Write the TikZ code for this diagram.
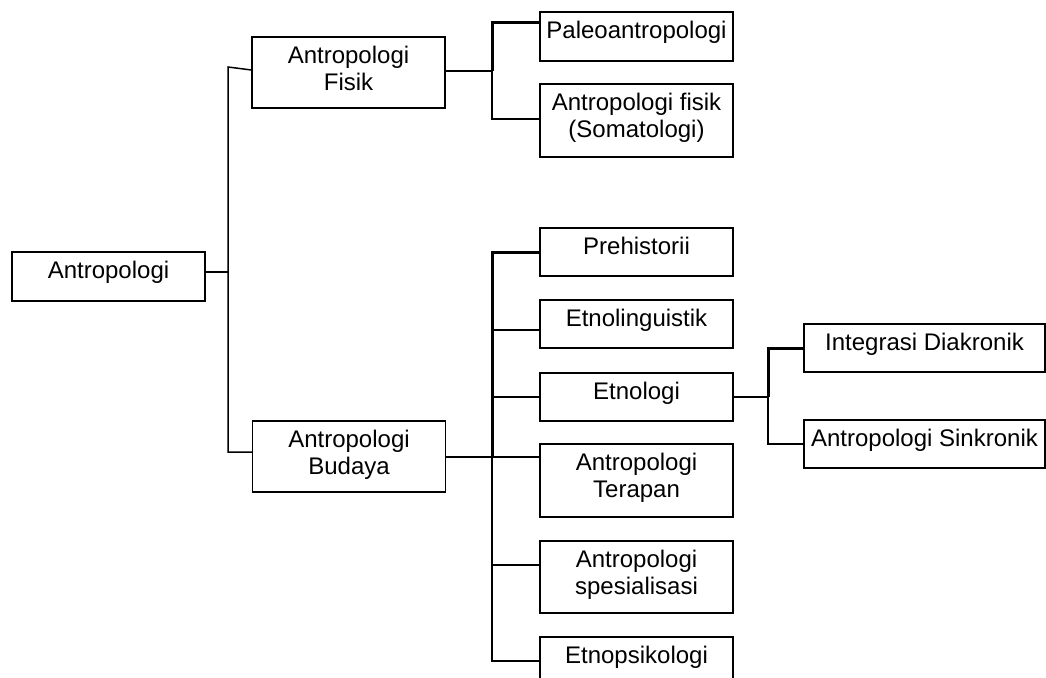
\documentclass[tikz,border=0pt]{standalone}
\usepackage{fontspec}
\setmainfont{Liberation Sans}
\begin{document}
\begin{tikzpicture}[x=1pt,y=-1pt,
  box/.style={draw, line width=1.3pt, inner sep=0pt, minimum width=193pt},
  txt/.style={anchor=north, inner sep=0pt, align=center, font=\fontsize{24}{27.5}\selectfont, yshift=-9.5pt},
  conn/.style={line width=1.5pt},
  connb/.style={line width=3pt}]
\useasboundingbox (0,0) rectangle (1046,677);
% boxes
\node[box, minimum height=49pt] (ant) at (108.5,276.5) {};
\node[txt] at (ant.north) {Antropologi};
\node[box, minimum height=71pt] (fis) at (348.5,72.5) {};
\node[txt] at (fis.north) {Antropologi\\Fisik};
\node[box, minimum height=71pt] (bud) at (349,456.5) {};
\node[txt] at (bud.north) {Antropologi\\Budaya};
\node[box, minimum height=49pt] (pal) at (636.5,36.5) {};
\node[txt] at (pal.north) {Paleoantropologi};
\node[box, minimum height=73pt] (som) at (636.5,120.5) {};
\node[txt] at (som.north) {Antropologi fisik\\(Somatologi)};
\node[box, minimum height=48pt] (pre) at (636.5,252) {};
\node[txt] at (pre.north) {Prehistorii};
\node[box, minimum height=48pt] (lin) at (636.5,324) {};
\node[txt] at (lin.north) {Etnolinguistik};
\node[box, minimum height=48pt] (eto) at (636.5,397) {};
\node[txt] at (eto.north) {Etnologi};
\node[box, minimum height=73pt] (ter) at (636.5,480.5) {};
\node[txt] at (ter.north) {Antropologi\\Terapan};
\node[box, minimum height=72pt] (spe) at (636.5,577) {};
\node[txt] at (spe.north) {Antropologi\\spesialisasi};
\node[box, minimum height=48pt] (psi) at (636.5,661) {};
\node[txt] at (psi.north) {Etnopsikologi};
\node[box, minimum width=241pt, minimum height=48pt] (dia) at (924.5,348) {};
\node[txt] at (dia.north) {Integrasi Diakronik};
\node[box, minimum width=241pt, minimum height=48pt] (sin) at (924.5,444) {};
\node[txt] at (sin.north) {Antropologi Sinkronik};
% junctions
\coordinate (j0) at (228,272);
\coordinate (j0t) at (228,67);
\coordinate (j0b) at (228,452);
\coordinate (j1) at (492,71);
\coordinate (j2) at (492,457);
\coordinate (j3) at (768,397);
% main bracket
\draw[conn] ([yshift=4.5pt]ant.east) -- (j0);
\draw[conn] ([yshift=2.5pt]fis.west) -- (j0t) -- (j0b) -- ([yshift=4.5pt]bud.west);
% fisik bracket
\draw[conn] ([yshift=1.5pt]fis.east) -- (j1);
\draw[connb] (j1) |- ([yshift=13.5pt]pal.west);
\draw[conn] (j1) |- ([yshift=1.5pt]som.west);
% budaya bracket
\draw[conn] (bud.east |- j2) -- (j2);
\draw[connb] (j2) |- (pre.west);
\draw[conn] (j2) |- (psi.west);
\draw[conn] (j2 |- 0,330) -- ([yshift=-6pt]lin.west);
\draw[conn] (j2 |- eto.west) -- (eto.west);
\draw[conn] (j2) -- ([yshift=23.5pt]ter.west);
\draw[conn] (j2 |- 0,565) -- ([yshift=12pt]spe.west);
% etnologi bracket
\draw[conn] (eto.east) -- (j3);
\draw[connb] (j3) |- (dia.west);
\draw[conn] (j3) |- (sin.west);
\end{tikzpicture}
\end{document}
